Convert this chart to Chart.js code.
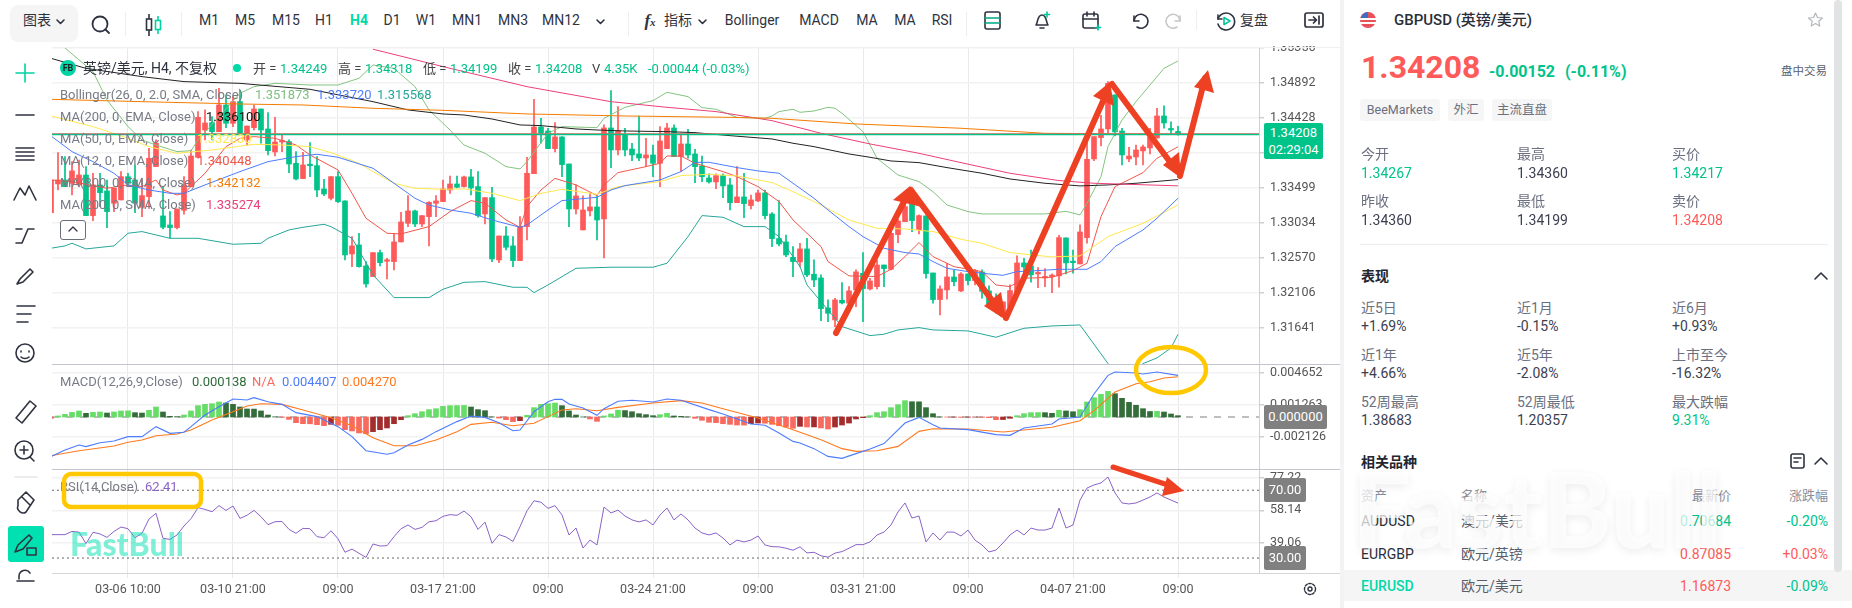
<!DOCTYPE html>
<html lang="zh"><head><meta charset="utf-8">
<script src="https://cdn.jsdelivr.net/npm/chart.js@4"></script>
<style>
html,body{margin:0;padding:0;background:#fff;width:1852px;height:608px;overflow:hidden;font-family:Roboto,"Noto Sans CJK SC",sans-serif;color:#2a2e39}
canvas{position:absolute;display:block}
.t{position:absolute;white-space:nowrap;transform:translateY(-50%);line-height:1}
.r{transform:translate(-100%,-50%)}
.c{transform:translate(-50%,-50%)}
.box{position:absolute}
.tb{font-size:14px;color:#2f3340;top:20px}
.lg{font-size:13px;color:#787b86}
.lbl{font-size:14px;color:#6b7080}
.val{font-size:14px;color:#3c4050}
.sec{font-size:14px;font-weight:700;color:#23262f}
.tag{position:absolute;top:99px;height:22px;line-height:22px;background:#f6f6f7;border-radius:3px;font-size:12.5px;color:#6b7080;text-align:center}
.badge{position:absolute;background:#808080;color:#fff;font-size:13px;text-align:center;border-radius:2px;line-height:24px;height:24px}
svg{position:absolute;overflow:visible}
.ic{fill:none;stroke:#2f3340;stroke-width:1.6;stroke-linecap:round;stroke-linejoin:round}
</style></head><body>
<canvas id="mainC" width="1288" height="318" style="left:52px;top:46px"></canvas>
<canvas id="macdC" width="1288" height="105" style="left:52px;top:364px"></canvas>
<canvas id="rsiC" width="1288" height="139" style="left:52px;top:469px"></canvas>

<div class="box" style="left:52px;top:47px;width:1288px;height:1px;background:#f0f0f0"></div>
<div class="box" style="left:52px;top:364px;width:1288px;height:1px;background:#c3c4cc"></div>
<div class="box" style="left:52px;top:469px;width:1288px;height:1px;background:#c3c4cc"></div>
<div class="box" style="left:52px;top:573px;width:1288px;height:1px;background:#d5d6da"></div>

<!-- top toolbar -->
<div class="box" style="left:10px;top:5px;width:68px;height:37px;background:#f5f5f5;border-radius:8px"></div>
<div class="t tb" style="left:23px;font-size:14px">图表</div>
<svg class="ic" style="left:56px;top:18px" width="10" height="8"><path d="M1 2l3.5 3.5L8 2"/></svg>
<svg class="ic" style="left:90px;top:14px;stroke-width:1.8" width="22" height="22"><circle cx="10" cy="10" r="7.5"/><path d="M15.5 15.5l3.5 3.5"/></svg>
<div class="box" style="left:125px;top:12px;width:1px;height:24px;background:#eee"></div>
<svg style="left:144px;top:13px" width="20" height="24"><g fill="none" stroke-width="1.6"><path d="M5 1v22" stroke="#2f3340"/><rect x="2.5" y="6" width="5" height="11" fill="#fff" stroke="#2f3340"/><path d="M14 3v18" stroke="#00d4a4"/><rect x="11.5" y="7.500" width="5" height="9" fill="#fff" stroke="#00d4a4"/></g></svg>
<div class="box" style="left:181px;top:12px;width:1px;height:24px;background:#eee"></div>
<div class="t tb c" style="left:209px">M1</div><div class="t tb c" style="left:245px">M5</div><div class="t tb c" style="left:286px">M15</div>
<div class="t tb c" style="left:324px">H1</div><div class="t tb c" style="left:359px;color:#00d9a8;font-weight:700">H4</div><div class="t tb c" style="left:392px">D1</div>
<div class="t tb c" style="left:426px">W1</div><div class="t tb c" style="left:467px">MN1</div><div class="t tb c" style="left:513px">MN3</div><div class="t tb c" style="left:561px">MN12</div>
<svg class="ic" style="left:596px;top:18px" width="10" height="8"><path d="M1 2l3.5 3.5L8 2"/></svg>
<div class="box" style="left:628px;top:12px;width:1px;height:24px;background:#eee"></div>
<div class="t tb c" style="left:650px;font-style:italic;font-weight:700;font-family:'Liberation Serif',serif;font-size:17px">f<span style="font-size:11px">x</span></div>
<div class="t tb c" style="left:678px">指标</div>
<svg class="ic" style="left:698px;top:18px" width="10" height="8"><path d="M1 2l3.5 3.5L8 2"/></svg>
<div class="t tb c" style="left:752px">Bollinger</div><div class="t tb c" style="left:819px">MACD</div>
<div class="t tb c" style="left:867px">MA</div><div class="t tb c" style="left:905px">MA</div><div class="t tb c" style="left:942px">RSI</div>
<div class="box" style="left:966px;top:12px;width:1px;height:24px;background:#eee"></div>
<svg class="ic" style="left:984px;top:11px" width="18" height="20"><rect x="1" y="1" width="15" height="17" rx="2"/><path d="M1 7h15M1 12h15" stroke="#00a884"/></svg>
<svg class="ic" style="left:1032px;top:10px" width="22" height="22"><path d="M4 15c2-2 1-10 6-10s4 8 6 10zM8 18h4"/><path d="M15 2v5M12.500 4.500h5" stroke="#00c49a"/></svg>
<svg class="ic" style="left:1081px;top:10px" width="22" height="22"><rect x="2" y="4" width="15" height="14" rx="2"/><path d="M2 9h15M6 2v4M13 2v4"/><path d="M17 15v5M14.500 17.500h5" stroke="#00c49a"/></svg>
<svg class="ic" style="left:1130px;top:11px" width="20" height="20"><path d="M4 5v5h5"/><path d="M4 10a7 7 0 1 1 3 6"/></svg>
<svg class="ic" style="left:1164px;top:11px;stroke:#c8c8cc" width="20" height="20"><path d="M16 5v5h-5"/><path d="M16 10a7 7 0 1 0-3 6"/></svg>
<div class="box" style="left:1196px;top:10px;width:1px;height:20px;background:#eee"></div>
<svg class="ic" style="left:1215px;top:10px" width="22" height="22"><path d="M3 5v4h4"/><path d="M3 9a8.500 8.500 0 1 1 0 5"/><path d="M9 7.500l6 3.500-6 3.500z" stroke="#00c49a"/></svg>
<div class="t tb" style="left:1240px">复盘</div>
<svg class="ic" style="left:1304px;top:11px;stroke-width:1.7" width="20" height="20"><rect x="1" y="2" width="18" height="14" rx="2"/><path d="M5 9h7M9.500 6l3 3-3 3M15 5v8"/></svg>

<!-- left toolbar -->
<svg class="ic" style="left:0;top:0" width="52" height="608">
<path d="M25 64v18M16 73h18" stroke="#00d4a4"/>
<path d="M16 115h18"/>
<path d="M16 148h18M16 152h18M16 156h18M16 160h18"/>
<path d="M14 200l6-12 5 7 4-9 7 14"/>
<path d="M16 243h6l6-14h6M16 229h6"/>
<path d="M17 284l3-5 10-10 3 3-10 10-6 2z"/>
<path d="M17 306h18M17 314h14M17 322h11"/>
<circle cx="25" cy="353" r="9"/><path d="M21 351v1M29 351v1M21 357c2 2 6 2 8 0"/>
<path d="M16 418l14-17 6 5-14 17z"/>
<circle cx="24" cy="450" r="9"/><path d="M30 457l4 4M20 450h8M24 446v8"/>
<path d="M15 477h22" stroke="#e6e6e6"/>
<path d="M18 500l8-8 8 8-8 12c-4 3-10-2-8-6zM22 497l8 8"/>
<rect x="8" y="526" width="36" height="36" rx="3" fill="#00e0b0" stroke="none"/>
<path d="M15 552l3-7 11-10 3 3-9 11z"/><rect x="27" y="548" width="9" height="7"/>
<path d="M19 579v-3a6 6 0 0 1 11-3M17 581h17"/>
</svg>

<!-- legend over the chart -->
<div class="box" style="left:60px;top:60px;width:16px;height:16px;background:#00d4a4;border-radius:50%;color:#222;font-size:9px;font-weight:700;text-align:center;line-height:16px">FB</div>
<div class="t" style="left:83px;top:68px;font-size:14px;color:#2f3340">英镑/美元, H4, 不复权</div>
<div class="box" style="left:233px;top:64px;width:8px;height:8px;background:#00d9a8;border-radius:50%"></div>
<div class="t lg" style="left:253px;top:68px;color:#444">开 =</div><div class="t lg" style="left:280px;top:68px;color:#00c389">1.34249</div>
<div class="t lg" style="left:338px;top:68px;color:#444">高 =</div><div class="t lg" style="left:365px;top:68px;color:#00c389">1.34318</div>
<div class="t lg" style="left:423px;top:68px;color:#444">低 =</div><div class="t lg" style="left:450px;top:68px;color:#00c389">1.34199</div>
<div class="t lg" style="left:508px;top:68px;color:#444">收 =</div><div class="t lg" style="left:535px;top:68px;color:#00c389">1.34208</div>
<div class="t lg" style="left:592px;top:68px;color:#444">V</div><div class="t lg" style="left:604px;top:68px;color:#00c389">4.35K</div>
<div class="t lg" style="left:648px;top:68px;color:#00c389">-0.00044 (-0.03%)</div>
<div class="t lg" style="left:60px;top:94px">Bollinger(26, 0, 2.0, SMA, Close)</div>
<div class="t lg" style="left:255px;top:94px;color:#7fbf7f">1.351873</div><div class="t lg" style="left:317px;top:94px;color:#4d7cfe">1.333720</div><div class="t lg" style="left:377px;top:94px;color:#26a69a">1.315568</div>
<div class="t lg" style="left:60px;top:116px">MA(200, 0, EMA, Close)</div><div class="t lg" style="left:206px;top:116px;color:#111">1.336100</div>
<div class="t lg" style="left:60px;top:138px">MA(50, 0, EMA, Close)</div><div class="t lg" style="left:197px;top:138px;color:#ffe84d">1.332830</div>
<div class="t lg" style="left:60px;top:160px">MA(12, 0, EMA, Close)</div><div class="t lg" style="left:197px;top:160px;color:#f0564a">1.340448</div>
<div class="t lg" style="left:60px;top:182px">MA(800, 0, EMA, Close)</div><div class="t lg" style="left:206px;top:182px;color:#f57c00">1.342132</div>
<div class="t lg" style="left:60px;top:204px">MA(200, 0, SMA, Close)</div><div class="t lg" style="left:206px;top:204px;color:#ec407a">1.335274</div>
<div class="box" style="left:60px;top:220px;width:24px;height:18px;border:1px solid #6b6f7a;border-radius:3px;background:#fff"></div>
<svg class="ic" style="left:68px;top:226px;stroke-width:1.3" width="10" height="7"><path d="M1 5l4-4 4 4"/></svg>
<div class="t lg" style="left:60px;top:381px">MACD(12,26,9,Close)</div>
<div class="t lg" style="left:192px;top:381px;color:#2f6b3a">0.000138</div><div class="t lg" style="left:252px;top:381px;color:#f86a60">N/A</div>
<div class="t lg" style="left:282px;top:381px;color:#4d7cfe">0.004407</div><div class="t lg" style="left:342px;top:381px;color:#ff7a1f">0.004270</div>
<div class="t lg" style="left:60px;top:486px">RSI(14,Close)</div><div class="t lg" style="left:145px;top:486px;color:#8a63c7">62.41</div>
<div class="t" style="left:70px;top:544px;font-size:32px;font-weight:900;color:#00e0b0;opacity:.5;font-family:Lato,Roboto,sans-serif">FastBull</div>

<!-- axis badges -->
<div class="box" style="left:1264px;top:123px;width:59px;height:36px;background:#00c389;border-radius:2px;color:#fff;font-size:13px;text-align:center;line-height:17px;padding-top:1px;box-sizing:border-box">1.34208<br>02:29:04</div>
<div class="badge" style="left:1264px;top:405px;width:63px">0.000000</div>
<div class="badge" style="left:1264px;top:478px;width:42px">70.00</div>
<div class="badge" style="left:1264px;top:546px;width:42px">30.00</div>
<svg class="ic" style="left:1303px;top:582px;stroke-width:1.4" width="14" height="14"><circle cx="7" cy="7" r="2"/><circle cx="7" cy="7" r="5.500" stroke-dasharray="2.500 1.500"/></svg>

<!-- hand-drawn annotations -->
<svg style="left:0;top:0;pointer-events:none" width="1340" height="608">
<g fill="none" stroke="#ffc800" stroke-width="4.500">
<rect x="64" y="474" width="137" height="33" rx="7"/>
<ellipse cx="1171" cy="370" rx="35" ry="23"/></g>
<g fill="none" stroke="#ee4023" stroke-width="6" stroke-linecap="round" stroke-linejoin="round">
<polyline points="836,333 909,192"/><polyline points="911,190 1002,314"/><polyline points="1006,318 1108,90"/><polyline points="1112,84 1176,170"/><polyline points="1180,176 1205,78"/>
<polyline points="1113,467 1168,485" stroke-width="5"/></g>
<g fill="#ee4023">
<polygon points="910,186 893,200 922,207"/><polygon points="1006,320 984,306 1001,292"/>
<polygon points="1110,82 1093,96 1114,106"/><polygon points="1181,178 1163,165 1179,152"/>
<polygon points="1208,70 1194,87 1214,93"/><polygon points="1184,491 1167,477 1162,496"/></g>
</svg>

<!-- sidebar -->
<div class="box" style="left:1340px;top:0;width:4px;height:608px;background:#f3f3f4"></div>
<div class="box" style="left:1344px;top:570px;width:508px;height:31px;background:#f5f5f5"></div>
<div class="box" style="left:1834px;top:0;width:8px;height:572px;background:#e2e3e5;border-radius:4px"></div>
<svg style="left:1360px;top:10px" width="16" height="20"><circle cx="8" cy="10" r="8" fill="#e8505b"/><rect x="0" y="8" width="16" height="2" fill="#fff"/><rect x="0" y="12" width="16" height="2" fill="#fff"/><path d="M8 2a8 8 0 0 0-7 6h7z" fill="#3a6fc4"/></svg>
<div class="t" style="left:1394px;top:20px;font-size:15px;font-weight:500;color:#2a2e39">GBPUSD (英镑/美元)</div>
<svg class="ic" style="left:1808px;top:12px;stroke:#b5b7bd;stroke-width:1.2" width="15" height="15"><path d="M7.500 1l2 4.500 5 .5-3.700 3.300 1 4.700-4.300-2.500-4.300 2.500 1-4.700L.500 6l5-.5z"/></svg>
<div class="t" style="left:1361px;top:67px;font-size:32px;font-weight:700;color:#ff5a5a">1.34208</div>
<div class="t" style="left:1489px;top:72px;font-size:16px;font-weight:700;color:#00c389">-0.00152</div>
<div class="t" style="left:1565px;top:72px;font-size:16px;font-weight:700;color:#00c389">(-0.11%)</div>
<div class="t" style="left:1781px;top:72px;font-size:11.500px;color:#5a5e6a">盘中交易</div>
<div class="tag" style="left:1360px;width:80px">BeeMarkets</div><div class="tag" style="left:1448px;width:36px">外汇</div><div class="tag" style="left:1492px;width:60px">主流直盘</div>

<div class="t lbl" style="left:1361px;top:154px">今开</div><div class="t val" style="left:1361px;top:173px;color:#00c389">1.34267</div>
<div class="t lbl" style="left:1517px;top:154px">最高</div><div class="t val" style="left:1517px;top:173px">1.34360</div>
<div class="t lbl" style="left:1672px;top:154px">买价</div><div class="t val" style="left:1672px;top:173px;color:#00c389">1.34217</div>
<div class="t lbl" style="left:1361px;top:201px">昨收</div><div class="t val" style="left:1361px;top:220px">1.34360</div>
<div class="t lbl" style="left:1517px;top:201px">最低</div><div class="t val" style="left:1517px;top:220px">1.34199</div>
<div class="t lbl" style="left:1672px;top:201px">卖价</div><div class="t val" style="left:1672px;top:220px;color:#ff5a5a">1.34208</div>
<div class="box" style="left:1360px;top:244px;width:468px;height:1px;background:#ececee"></div>
<div class="t sec" style="left:1361px;top:276px">表现</div>
<svg class="ic" style="left:1814px;top:272px" width="14" height="9"><path d="M1 7l6-6 6 6"/></svg>
<div class="t lbl" style="left:1361px;top:308px">近5日</div><div class="t val" style="left:1361px;top:326px">+1.69%</div>
<div class="t lbl" style="left:1517px;top:308px">近1月</div><div class="t val" style="left:1517px;top:326px">-0.15%</div>
<div class="t lbl" style="left:1672px;top:308px">近6月</div><div class="t val" style="left:1672px;top:326px">+0.93%</div>
<div class="t lbl" style="left:1361px;top:355px">近1年</div><div class="t val" style="left:1361px;top:373px">+4.66%</div>
<div class="t lbl" style="left:1517px;top:355px">近5年</div><div class="t val" style="left:1517px;top:373px">-2.08%</div>
<div class="t lbl" style="left:1672px;top:355px">上市至今</div><div class="t val" style="left:1672px;top:373px">-16.32%</div>
<div class="t lbl" style="left:1361px;top:402px">52周最高</div><div class="t val" style="left:1361px;top:420px">1.38683</div>
<div class="t lbl" style="left:1517px;top:402px">52周最低</div><div class="t val" style="left:1517px;top:420px">1.20357</div>
<div class="t lbl" style="left:1672px;top:402px">最大跌幅</div><div class="t val" style="left:1672px;top:420px;color:#00c389">9.31%</div>
<div class="t sec" style="left:1361px;top:462px">相关品种</div>
<svg class="ic" style="left:1790px;top:452px" width="16" height="18"><rect x="1" y="2" width="13" height="14" rx="2"/><path d="M4 6h7M4 10h4"/></svg>
<svg class="ic" style="left:1814px;top:457px" width="14" height="9"><path d="M1 7l6-6 6 6"/></svg>
<div class="t" style="left:1361px;top:495px;font-size:13px;color:#8a8e99">资产</div><div class="t" style="left:1461px;top:495px;font-size:13px;color:#8a8e99">名称</div>
<div class="t r" style="left:1731px;top:495px;font-size:13px;color:#8a8e99">最新价</div><div class="t r" style="left:1828px;top:495px;font-size:13px;color:#8a8e99">涨跌幅</div>
<div class="t" style="left:1361px;top:521px;font-size:14px">AUDUSD</div><div class="t" style="left:1461px;top:521px;font-size:14px;color:#5a5e6a">澳元/美元</div>
<div class="t r" style="left:1731px;top:521px;font-size:14px;color:#00c389">0.70684</div><div class="t r" style="left:1828px;top:521px;font-size:14px;color:#00c389">-0.20%</div>
<div class="t" style="left:1361px;top:554px;font-size:14px">EURGBP</div><div class="t" style="left:1461px;top:554px;font-size:14px;color:#5a5e6a">欧元/英镑</div>
<div class="t r" style="left:1731px;top:554px;font-size:14px;color:#ff5a5a">0.87085</div><div class="t r" style="left:1828px;top:554px;font-size:14px;color:#ff5a5a">+0.03%</div>
<div class="t" style="left:1361px;top:586px;font-size:14px;color:#00d9a8;font-weight:500">EURUSD</div><div class="t" style="left:1461px;top:586px;font-size:14px;color:#5a5e6a">欧元/美元</div>
<div class="t r" style="left:1731px;top:586px;font-size:14px;color:#ff5a5a">1.16873</div><div class="t r" style="left:1828px;top:586px;font-size:14px;color:#00c389">-0.09%</div>
<div class="t" style="left:1352px;top:508px;font-size:104px;font-weight:900;font-family:Lato,Roboto,sans-serif;color:rgba(255,255,255,.72);text-shadow:0 3px 10px rgba(0,0,0,.07)">FastBull</div>

<script>
const timeTicks=["03-06 10:00","03-10 21:00","09:00","03-17 21:00","09:00","03-24 21:00","09:00","03-31 21:00","09:00","04-07 21:00","09:00"];
const timeTickIndex=[11,26,41,56,71,86,101,116,131,146,161];
const priceTicks=[1.35356,1.34892,1.34428,1.33964,1.33499,1.33034,1.32570,1.32106,1.31641];
const macdTicks=[0.004652,0.001263,-0.002126];
const rsiTicks=[77.22,58.14,39.06];

const opens=[1.33172,1.33552,1.33605,1.33561,1.33539,1.33671,1.33132,1.33539,1.33459,1.33296,
1.33340,1.33649,1.33605,1.33242,1.33384,1.33782,1.33128,1.33008,1.32973,1.33203,
1.33517,1.33906,1.34268,1.34366,1.34246,1.34600,1.34357,1.34644,1.34136,1.34299,
1.34547,1.34282,1.33977,1.34109,1.34114,1.33826,1.33623,1.33804,1.33795,1.33486,
1.33362,1.33649,1.33327,1.32623,1.32743,1.32464,1.32323,1.32641,1.32526,1.32522,
1.32783,1.33030,1.33194,1.33021,1.33119,1.33296,1.33318,1.33472,1.33552,1.33517,
1.33645,1.33517,1.33154,1.33371,1.32544,1.32862,1.32730,1.32535,1.32986,1.33689,
1.34308,1.34255,1.34021,1.34176,1.33817,1.33220,1.32942,1.33194,1.33247,1.33088,
1.34295,1.34003,1.34211,1.34016,1.33950,1.33897,1.33937,1.33826,1.34021,1.34295,
1.33915,1.34083,1.33950,1.33791,1.33632,1.33579,1.33663,1.33539,1.33304,1.33380,
1.33265,1.33327,1.33433,1.33154,1.32827,1.32783,1.32579,1.32517,1.32690,1.32354,
1.32305,1.31907,1.31748,1.32009,1.31969,1.32146,1.32367,1.32159,1.32190,1.32477,
1.32420,1.32880,1.33052,1.33362,1.32946,1.33128,1.32371,1.32018,1.32146,1.32318,
1.32133,1.32358,1.32270,1.32385,1.32133,1.32000,1.31836,1.31925,1.32102,1.32504,
1.32464,1.32358,1.32305,1.32323,1.32332,1.32836,1.32517,1.32491,1.32840,1.33884,
1.34167,1.34282,1.34733,1.34255,1.33884,1.33910,1.33990,1.34030,1.34162,1.34454,
1.34282,1.34249];
const highs=[1.33605,1.33968,1.33915,1.33848,1.33870,1.33782,1.33694,1.33694,1.33605,1.33495,
1.33716,1.33694,1.33804,1.33605,1.34025,1.34136,1.33517,1.33185,1.33220,1.33649,
1.34003,1.34512,1.34534,1.34445,1.34821,1.34733,1.34711,1.34799,1.34321,1.34600,
1.34547,1.34498,1.34436,1.34202,1.34136,1.33981,1.33972,1.34100,1.33915,1.33614,
1.33649,1.33716,1.33327,1.32853,1.32898,1.32522,1.32641,1.32676,1.32566,1.32889,
1.33176,1.33397,1.33207,1.33132,1.33318,1.33397,1.33605,1.33658,1.33658,1.33658,
1.33747,1.33716,1.33371,1.33508,1.32862,1.32986,1.32853,1.33119,1.33906,1.34675,
1.34423,1.34291,1.34366,1.34180,1.33817,1.33539,1.33393,1.33428,1.33393,1.34335,
1.34790,1.34578,1.34291,1.34092,1.34454,1.34158,1.34069,1.34313,1.34357,1.34335,
1.34215,1.34277,1.34012,1.33923,1.33685,1.33685,1.33685,1.33627,1.33782,1.33694,
1.33406,1.33472,1.33472,1.33172,1.33331,1.32875,1.32721,1.32765,1.32831,1.32544,
1.32345,1.32013,1.32035,1.32243,1.32190,1.32411,1.32641,1.32301,1.32544,1.32477,
1.32920,1.33083,1.33340,1.33406,1.33141,1.33128,1.32371,1.32199,1.32500,1.32411,
1.32376,1.32358,1.32420,1.32411,1.32199,1.32093,1.31987,1.32212,1.32597,1.32566,
1.32676,1.32442,1.32429,1.32358,1.32871,1.32836,1.32676,1.33008,1.34100,1.34180,
1.34463,1.34910,1.34733,1.34291,1.34038,1.34069,1.34069,1.34291,1.34556,1.34587,
1.34375,1.34318];
const lows=[1.33172,1.33472,1.33517,1.33406,1.33517,1.33132,1.33066,1.33251,1.32973,1.33185,
1.33340,1.33517,1.33172,1.33119,1.33229,1.33782,1.32955,1.32831,1.32955,1.33150,
1.33517,1.33893,1.34136,1.34136,1.34246,1.34299,1.34313,1.34215,1.34069,1.34268,
1.34092,1.33937,1.33923,1.33981,1.33702,1.33605,1.33623,1.33649,1.33384,1.33397,
1.33340,1.33304,1.32544,1.32455,1.32447,1.32181,1.32323,1.32464,1.32292,1.32411,
1.32783,1.32986,1.32986,1.32986,1.32730,1.33119,1.33318,1.33428,1.33499,1.33508,
1.33406,1.33110,1.33021,1.32522,1.32508,1.32676,1.32455,1.32535,1.32809,1.33689,
1.34092,1.34021,1.33977,1.33649,1.32986,1.33154,1.32942,1.33128,1.32809,1.32570,
1.33769,1.33937,1.33923,1.33862,1.33862,1.33782,1.33649,1.33517,1.34021,1.33915,
1.33716,1.33893,1.33570,1.33583,1.33561,1.33490,1.33371,1.33207,1.33304,1.33105,
1.33220,1.33318,1.33088,1.32721,1.32730,1.32588,1.32323,1.32455,1.32323,1.32190,
1.31739,1.31726,1.31659,1.31960,1.31969,1.31925,1.31726,1.32146,1.32159,1.32190,
1.32411,1.32774,1.33052,1.32920,1.32889,1.32301,1.31969,1.31814,1.32022,1.32199,
1.32124,1.32212,1.32212,1.32035,1.31903,1.31836,1.31827,1.31881,1.32079,1.32278,
1.32248,1.32177,1.32190,1.32110,1.32181,1.32358,1.32367,1.32491,1.32765,1.33862,
1.34056,1.34224,1.34189,1.33804,1.33848,1.33804,1.33804,1.33950,1.34162,1.34291,
1.34224,1.34199];
const closes=[1.33605,1.33605,1.33517,1.33725,1.33671,1.33132,1.33539,1.33437,1.33185,1.33495,
1.33649,1.33561,1.33296,1.33397,1.33893,1.34092,1.32977,1.32973,1.33220,1.33539,
1.33923,1.34436,1.34361,1.34246,1.34600,1.34357,1.34644,1.34224,1.34321,1.34547,
1.34268,1.33994,1.34109,1.34122,1.33817,1.33618,1.33804,1.33795,1.33472,1.33419,
1.33649,1.33318,1.32610,1.32730,1.32455,1.32225,1.32641,1.32508,1.32539,1.32783,
1.33048,1.33194,1.33021,1.33132,1.33309,1.33327,1.33486,1.33552,1.33508,1.33645,
1.33499,1.33132,1.33371,1.32557,1.32862,1.32712,1.32535,1.32986,1.33694,1.34308,
1.34224,1.34021,1.34176,1.33809,1.33220,1.33393,1.33207,1.33247,1.33074,1.34295,
1.34003,1.34260,1.34003,1.33937,1.33897,1.33937,1.33826,1.34122,1.34295,1.33915,
1.34083,1.33937,1.33782,1.33649,1.33579,1.33663,1.33526,1.33304,1.33380,1.33291,
1.33340,1.33433,1.33132,1.32827,1.32756,1.32610,1.32522,1.32690,1.32345,1.32278,
1.31898,1.31836,1.32013,1.31973,1.32133,1.32385,1.32164,1.32265,1.32477,1.32429,
1.32898,1.33061,1.33251,1.33066,1.33132,1.32363,1.32018,1.32159,1.32318,1.32256,
1.32358,1.32270,1.32402,1.32128,1.31960,1.31881,1.31987,1.32137,1.32504,1.32451,
1.32345,1.32371,1.32314,1.32332,1.32840,1.32504,1.32508,1.32915,1.33879,1.34180,
1.34282,1.34887,1.34242,1.33937,1.33923,1.34003,1.34043,1.34171,1.34454,1.34361,
1.34268,1.34208];

const bollUpper=[[2,1.35356],[6,1.35042],[8,1.34666],[11,1.34313],[13,1.34136],[15,1.34069],[18,1.33981],[20,1.33994],[21,1.34136],[24,1.34445],[27,1.34755],[29,1.34843],[32,1.34887],[37,1.34865],[41,1.34865],[44,1.34954],[46,1.35131],[49,1.35086],[52,1.34843],[54,1.34534],[57,1.34268],[59,1.34069],[62,1.33959],[65,1.33782],[67,1.33751],[68,1.33848],[71,1.34224],[73,1.34313],[78,1.34299],[79,1.34423],[82,1.34569],[86,1.34658],[88,1.34768],[91,1.34711],[93,1.34565],[95,1.34543],[98,1.34436],[102,1.34423],[103,1.34454],[104,1.34512],[106,1.34543],[107,1.34503],[109,1.34520],[111,1.34569],[112,1.34556],[113,1.34490],[116,1.34246],[118,1.33893],[121,1.33671],[124,1.33583],[126,1.33450],[128,1.33273],[131,1.33185],[133,1.33154],[137,1.33154],[142,1.33154],[145,1.33189],[147,1.33141],[148,1.33295],[150,1.33649],[151,1.34047],[153,1.34401],[155,1.34644],[157,1.34865],[159,1.35086],[161,1.35184]];
const bollMid=[[0,1.34189],[3,1.33981],[6,1.33848],[9,1.33694],[11,1.33539],[14,1.33472],[17,1.33428],[19,1.33428],[22,1.33539],[27,1.33716],[31,1.33848],[35,1.33915],[38,1.33946],[41,1.33906],[46,1.33760],[49,1.33561],[52,1.33362],[54,1.33273],[57,1.33207],[60,1.33163],[63,1.33074],[67,1.32977],[68,1.33008],[71,1.33207],[73,1.33331],[78,1.33375],[80,1.33472],[82,1.33530],[87,1.33605],[90,1.33716],[92,1.33839],[94,1.33839],[98,1.33769],[101,1.33725],[104,1.33694],[106,1.33561],[109,1.33362],[111,1.33207],[114,1.32986],[116,1.32853],[119,1.32699],[122,1.32641],[124,1.32623],[126,1.32522],[128,1.32433],[131,1.32389],[134,1.32358],[136,1.32340],[138,1.32389],[141,1.32402],[144,1.32420],[148,1.32420],[150,1.32522],[152,1.32721],[156,1.32942],[158,1.33097],[161,1.33362]];
const bollLower=[[0,1.32699],[2,1.32730],[3,1.32765],[5,1.32690],[9,1.32730],[11,1.32898],[13,1.32920],[17,1.32831],[21,1.32831],[26,1.32752],[30,1.32765],[31,1.32831],[34,1.32942],[36,1.32977],[39,1.33017],[40,1.32986],[43,1.32831],[46,1.32345],[49,1.32044],[54,1.32044],[56,1.32155],[59,1.32247],[62,1.32256],[66,1.32181],[68,1.32181],[69,1.32110],[71,1.32212],[75,1.32433],[80,1.32447],[86,1.32447],[88,1.32500],[91,1.32853],[93,1.33132],[96,1.33110],[99,1.32986],[102,1.32986],[104,1.32853],[106,1.32588],[107,1.32455],[108,1.32212],[113,1.31659],[117,1.31540],[119,1.31558],[121,1.31615],[124,1.31646],[126,1.31615],[131,1.31602],[135,1.31518],[139,1.31637],[143,1.31668],[147,1.31681],[151,1.31169],[153,1.30950],[155,1.31085],[156,1.31169],[158,1.31244],[160,1.31376],[161,1.31557]];
const ema200=[[0,1.35219],[5,1.35086],[13,1.34976],[19,1.34910],[27,1.34887],[37,1.34808],[46,1.34644],[51,1.34534],[56,1.34481],[59,1.34467],[63,1.34414],[67,1.34335],[70,1.34326],[75,1.34282],[78,1.34268],[82,1.34255],[88,1.34246],[92,1.34233],[97,1.34193],[103,1.34149],[106,1.34092],[109,1.34047],[114,1.33950],[117,1.33906],[120,1.33857],[124,1.33835],[128,1.33769],[133,1.33694],[137,1.33618],[142,1.33561],[147,1.33526],[151,1.33539],[155,1.33561],[161,1.33610]];
const ema50=[[0,1.34454],[6,1.34313],[11,1.34158],[14,1.34047],[18,1.33959],[23,1.34003],[29,1.34078],[33,1.34069],[37,1.34047],[40,1.33968],[44,1.33826],[46,1.33716],[49,1.33561],[52,1.33495],[56,1.33481],[59,1.33486],[63,1.33428],[67,1.33331],[70,1.33428],[73,1.33481],[78,1.33415],[81,1.33517],[87,1.33583],[90,1.33663],[94,1.33680],[98,1.33658],[103,1.33570],[106,1.33450],[110,1.33273],[114,1.33074],[118,1.32964],[122,1.32955],[126,1.32920],[130,1.32818],[133,1.32765],[137,1.32641],[143,1.32584],[147,1.32597],[151,1.32853],[156,1.33030],[161,1.33273]];
const ema12=[[0,1.33605],[3,1.33583],[8,1.33495],[11,1.33539],[13,1.33517],[15,1.33605],[16,1.33472],[18,1.33406],[19,1.33428],[22,1.33694],[25,1.34047],[27,1.34158],[29,1.34180],[32,1.34158],[35,1.34069],[37,1.33937],[41,1.33738],[43,1.33428],[45,1.33097],[48,1.32898],[50,1.32889],[54,1.32986],[57,1.33185],[60,1.33331],[62,1.33296],[65,1.33074],[67,1.32977],[68,1.33251],[70,1.33472],[72,1.33627],[75,1.33539],[78,1.33397],[79,1.33539],[81,1.33702],[85,1.33782],[87,1.33826],[88,1.33923],[90,1.33923],[92,1.33826],[96,1.33716],[98,1.33649],[101,1.33517],[104,1.33318],[106,1.33074],[107,1.32986],[110,1.32721],[111,1.32522],[114,1.32332],[118,1.32323],[120,1.32420],[122,1.32588],[124,1.32774],[126,1.32588],[129,1.32455],[133,1.32389],[135,1.32212],[137,1.32190],[139,1.32301],[143,1.32314],[146,1.32402],[148,1.32500],[150,1.33119],[152,1.33517],[156,1.33702],[158,1.33893],[161,1.34045]];
const ema800=[[0,1.34675],[13,1.34644],[27,1.34613],[36,1.34600],[46,1.34556],[56,1.34529],[68,1.34481],[82,1.34454],[97,1.34436],[103,1.34423],[115,1.34348],[130,1.34291],[142,1.34224],[161,1.34213]];
const sma200=[[46,1.35340],[56,1.35109],[68,1.34843],[80,1.34644],[88,1.34569],[95,1.34512],[103,1.34392],[110,1.34224],[117,1.34083],[124,1.33959],[130,1.33835],[137,1.33694],[144,1.33597],[149,1.33561],[161,1.33527]];
const askPrice=1.34217, bidPrice=1.34208;

const macdHist=[-.00014,.00011,.00028,.00049,.00064,.00039,.00049,.00053,.00042,.00053,
.00064,.00065,.00046,.00042,.00071,.00106,.00053,.00007,.00004,.00021,
.00064,.00120,.00134,.00141,.00159,.00148,.00134,.00106,.00085,.00084,
.00064,.00021,.00002,-.00004,-.00025,-.00060,-.00071,-.00072,-.00081,-.00092,
-.00078,-.00088,-.00134,-.00148,-.00169,-.00177,-.00155,-.00134,-.00116,-.00071,
-.00028,.00014,.00035,.00056,.00078,.00088,.00113,.00120,.00121,.00122,
.00106,.00078,.00067,.00001,-.00011,-.00028,-.00049,-.00039,.00018,.00099,
.00134,.00141,.00148,.00120,.00064,.00021,.00001,-.00021,-.00046,.00011,
.00032,.00072,.00068,.00056,.00035,.00025,.00014,.00025,.00039,.00011,
.00007,.00001,-.00014,-.00035,-.00056,-.00060,-.00071,-.00078,-.00085,-.00086,
-.00071,-.00064,-.00066,-.00078,-.00092,-.00106,-.00120,-.00099,-.00106,-.00105,
-.00116,-.00127,-.00106,-.00085,-.00064,-.00021,-.00007,.00014,.00046,.00056,
.00099,.00131,.00173,.00162,.00161,.00099,.00035,.00001,-.00001,-.00001,
-.00004,-.00002,-.00001,-.00004,-.00007,-.00028,-.00027,-.00014,.00014,.00035,
.00046,.00047,.00046,.00039,.00071,.00064,.00056,.00078,.00159,.00205,
.00240,.00272,.00247,.00198,.00155,.00124,.00088,.00058,.00060,.00053,
.00032,.00014];
const macdDif=[[0,-.00420],[2,-.00349],[4,-.00297],[5,-.00314],[7,-.00272],[9,-.00254],[11,-.00208],[13,-.00208],[15,-.00102],[17,-.00173],[19,-.00162],[20,-.00102],[22,.00021],[24,.00109],[26,.00191],[28,.00180],[29,.00205],[31,.00162],[33,.00134],[35,.00046],[38,.00004],[41,-.00102],[43,-.00208],[45,-.00357],[48,-.00395],[49,-.00378],[51,-.00297],[53,-.00237],[55,-.00155],[58,-.00049],[60,.00011],[62,-.00004],[64,-.00060],[66,-.00145],[67,-.00138],[69,.00056],[71,.00162],[72,.00187],[73,.00187],[74,.00138],[76,.00095],[78,.00018],[79,.00088],[81,.00166],[83,.00177],[86,.00159],[88,.00191],[90,.00177],[94,.00078],[96,.00032],[100,-.00074],[102,-.00088],[104,-.00169],[106,-.00258],[107,-.00275],[109,-.00335],[111,-.00417],[113,-.00438],[115,-.00388],[117,-.00339],[119,-.00282],[122,-.00064],[124,-.00004],[126,-.00081],[127,-.00116],[131,-.00134],[135,-.00187],[137,-.00194],[139,-.00116],[143,-.00074],[144,-.00021],[147,0],[149,.00244],[151,.00441],[152,.00477],[155,.00466],[156,.00455],[158,.00477],[161,.00441]];
const macdDea=[[0,-.00409],[4,-.00357],[9,-.00307],[11,-.00268],[13,-.00244],[15,-.00198],[18,-.00180],[20,-.00138],[23,-.00032],[26,.00056],[28,.00116],[30,.00141],[33,.00134],[36,.00074],[40,-.00007],[43,-.00092],[46,-.00219],[49,-.00304],[52,-.00304],[55,-.00244],[58,-.00155],[60,-.00078],[63,-.00056],[66,-.00092],[69,-.00067],[71,.00004],[73,.00074],[75,.00088],[78,.00067],[81,.00102],[86,.00148],[90,.00173],[93,.00148],[96,.00088],[101,-.00011],[106,-.00134],[110,-.00240],[113,-.00335],[115,-.00364],[118,-.00357],[121,-.00311],[124,-.00152],[126,-.00124],[131,-.00127],[136,-.00159],[143,-.00109],[147,-.00039],[149,.00067],[152,.00265],[155,.00353],[157,.00374],[159,.00413],[161,.00427]];
const macdZero=0;

const rsiValues=[43.8,43.8,43.8,45.7,45.3,38.5,45.2,44.2,42.2,45.7,
48.3,47.3,42.0,44.6,53.0,56.4,41.6,41.0,43.6,48.9,
53.2,59.7,58.7,57.3,60.9,58.1,60.7,53.4,55.2,58.1,
54.4,49.7,51.4,51.6,46.9,44.6,47.5,47.3,42.6,42.0,
46.1,41.4,33.4,35.3,32.8,30.4,38.3,37.1,37.3,42.6,
47.3,49.5,46.9,48.1,51.4,52.0,54.6,55.6,55.2,57.7,
54.4,46.9,51.2,38.7,43.8,42.4,39.8,48.5,57.9,63.8,
62.9,59.3,60.9,55.4,43.6,47.7,35.9,40.6,37.7,60.1,
56.6,58.3,54.8,52.5,51.3,52.5,49.5,55.4,59.5,52.5,
56.0,52.5,47.7,44.8,43.6,44.8,41.8,37.7,40.6,39.5,
40.6,43.0,37.7,36.7,36.6,35.8,34.6,36.6,33.0,33.4,
31.3,30.5,32.9,33.8,35.8,37.9,37.9,39.5,43.6,45.3,
49.5,57.2,62.5,53.6,54.8,39.5,44.8,40.6,45.3,45.3,
43.0,46.5,40.6,37.7,33.6,34.7,38.9,43.6,46.5,43.6,
47.7,46.5,46.5,47.7,59.5,47.7,49.5,64.2,71.3,73.1,
74.3,77.8,68.4,62.5,61.9,62.5,64.2,66.0,68.4,66.0,
64.2,62.41];
const rsiUpper=70, rsiLower=30;

const UP='#ff5a5a', DOWN='#00c389';
const XMIN=0.143, XMAX=172.571;
const idx=opens.map((_,i)=>i);

/* pin the plot rectangle of each pane so that the three panes line up */
function pinArea(top,bottom){
  return {id:'pinArea',afterLayout(c){
    const a=c.chartArea,x=c.scales.x,y=c.scales.y,h=bottom-top;
    a.top=top;a.bottom=bottom;a.height=h;a.left=0;a.right=1207;a.width=1207;
    y.top=top;y.bottom=bottom;y.height=h;y.left=1207;y.right=1288;y.width=81;y.configure();
    x.left=0;x.right=1207;x.width=1207;x.top=bottom;x.bottom=c.height;x.height=c.height-bottom;x.configure();
  }};
}
function xAxis(showLabels){
  return {type:'linear',min:XMIN,max:XMAX,offset:false,
    afterBuildTicks:a=>{a.ticks=timeTickIndex.map(v=>({value:v}));},
    afterFit:a=>{a.height=showLabels?35:0;},
    border:{display:false},
    grid:{offset:false,color:'#e9e9ec',lineWidth:1,drawTicks:showLabels,tickLength:5},
    ticks:{display:showLabels,autoSkip:false,maxRotation:0,padding:4,color:'#555',font:{size:12.5,family:'Roboto,"Noto Sans CJK SC"'},
      callback:v=>timeTicks[timeTickIndex.indexOf(v)]||''}};
}
function yAxis(min,max,ticks,dec){
  return {position:'right',min,max,
    afterBuildTicks:a=>{a.ticks=ticks.map(v=>({value:v}));},
    afterFit:a=>{a.width=81;},
    border:{display:true,color:'#cfd0d4'},
    grid:{color:'#f2f2f3',lineWidth:1.5,drawTicks:true,tickLength:5,tickColor:'#cfd0d4'},
    ticks:{padding:6,color:'#555',font:{size:12.5,family:'Roboto'},autoSkip:false,callback:v=>v.toFixed(dec)}};
}
function line(pairs,color,w,order,extra){
  return Object.assign({type:'line',data:pairs.map(p=>({x:p[0],y:p[1]})),borderColor:color,borderWidth:w||1,pointRadius:0,tension:0,fill:false,order:order||5},extra||{});
}
function level(v,color,w,order,extra){return line([[XMIN,v],[XMAX,v]],color,w,order,extra);}
const base={responsive:false,animation:false,devicePixelRatio:1,plugins:{legend:{display:false},tooltip:{enabled:false}},events:[]};

new Chart(document.getElementById('mainC'),{type:'bar',plugins:[pinArea(2,318)],data:{datasets:[
  {data:idx.map(i=>({x:i,y:[lows[i],highs[i]]})),backgroundColor:idx.map(i=>closes[i]>=opens[i]?UP:DOWN),barThickness:1,grouped:false,order:20,borderWidth:0},
  {data:idx.map(i=>({x:i,y:[opens[i],closes[i]]})),backgroundColor:idx.map(i=>closes[i]>=opens[i]?UP:DOWN),barThickness:5,minBarLength:1.5,grouped:false,order:19,borderWidth:0},
  line(ema800,'#f57c00',1),line(sma200,'#ec407a',1),line(ema200,'#222222',1),
  line(bollUpper,'#84c47f'),line(bollMid,'#4d7cfe',1),line(bollLower,'#26a69a',1),
  line(ema50,'#ffe84d',1),line(ema12,'#f0564a',1),
  level(askPrice,UP,1.2,2),level(bidPrice,DOWN,1.6,1)
]},options:Object.assign({},base,{layout:{autoPadding:false},
  scales:{x:xAxis(false),y:yAxis(1.31163,1.35356,priceTicks,5)}})});

new Chart(document.getElementById('macdC'),{type:'bar',plugins:[pinArea(0,105)],data:{datasets:[
  level(macdZero,'#808080',1,9,{borderDash:[7,7]}),
  {data:idx.map(i=>({x:i,y:macdHist[i]})),backgroundColor:idx.map(i=>{const v=macdHist[i],p=i?macdHist[i-1]:0;
     return v>=0?(v>p?'#66dd66':'#336e3a'):(v<p?'#f86a60':'#a52c2c');}),barThickness:5,grouped:false,order:8,borderWidth:0},
  line(macdDea,'#ff7a1f',1.1,3),line(macdDif,'#4d7cfe',1.1,2)
]},options:Object.assign({},base,{layout:{autoPadding:false},scales:{x:xAxis(false),y:yAxis(-0.005507,0.005613,macdTicks,6)}})});

new Chart(document.getElementById('rsiC'),{type:'line',plugins:[pinArea(0,104)],data:{datasets:[
  level(rsiUpper,'#666',1,6,{borderDash:[2,3]}),level(rsiLower,'#666',1,6,{borderDash:[2,3]}),
  line(idx.map(i=>[i,rsiValues[i]]),'#8a63c7',1,2)
]},options:Object.assign({},base,{layout:{autoPadding:false},scales:{x:xAxis(true),y:yAxis(21.17,82.53,rsiTicks,2)}})});
</script>
</body></html>
